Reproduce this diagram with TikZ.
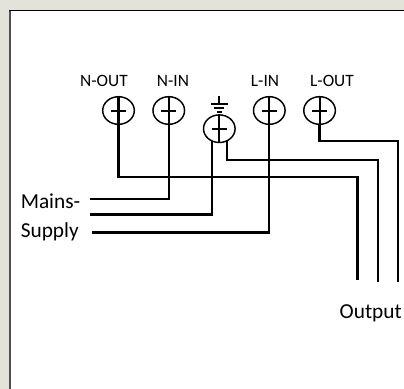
\documentclass[tikz,border=0pt]{standalone}
\usepackage{fontspec}
\setmainfont{Carlito}
\usetikzlibrary{positioning}
\usetikzlibrary{calc}
\usetikzlibrary{shapes.geometric}
\definecolor{panel}{HTML}{E4E3DB}
\definecolor{edge}{HTML}{505050}
\tikzset{
  terminal/.style = { ellipse, draw=black, line width=1.1pt, minimum width=23.7pt, minimum height=20.7pt, inner sep=0pt, outer sep=0pt },
  wire/.style     = { line width=1.7pt, draw=black, line join=miter },
  stem/.style     = { line width=1.6pt, draw=black },
  caption/.style  = { font=\fontsize{16}{18}\selectfont, inner sep=0pt },
  pinname/.style  = { font=\fontsize{13}{15}\selectfont, inner sep=0pt }
}
\begin{document}
\begin{tikzpicture}[x=0.75pt,y=-0.75pt,node distance=14pt]
  \useasboundingbox (0,0) rectangle (404,389);
  \fill [panel] (0,0) rectangle (404,389);
  \fill [white] (10,10) rectangle (404,389);
  \fill [edge]  (9,10) rectangle (11,389);
  \fill [black] (9,9.5) rectangle (404,11);

  % terminals
  \node (nout)  [terminal] at (118.5,110.5) {};
  \node (nin)   [terminal,right=of nout] {};
  \node (earth) [terminal] at (219.3,128.7) {};
  \node (lin)   [terminal] at (269.3,110.5) {};
  \node (lout)  [terminal,right=of lin] {};
  \foreach \pin in {nout,nin,earth,lin,lout} {
    \draw [stem] (\pin.north) -- (\pin.south);
    \draw [stem] ($(\pin)+(-7.5,0.5)$) -- ($(\pin)+(7.5,0.5)$);
  }

  % earth sign
  \coordinate (earthtop) at (219.3,96);
  \draw [stem] (earthtop) -- ++(0,8.3);
  \draw [stem] ($(earthtop)+(-8.5,8.3)$) -- ($(earthtop)+(8.5,8.3)$);
  \draw [stem] ($(earthtop)+(-5,12)$) -- ($(earthtop)+(5,12)$);
  \draw [stem] ($(earthtop)+(-2.5,16)$) -- ($(earthtop)+(2.5,16)$);

  % labels
  \node (noutname) [pinname] at (104,81) {N-OUT};
  \node (ninname)  [pinname] at (173,81) {N-IN};
  \node (linname)  [pinname] at (265,81) {L-IN};
  \node (loutname) [pinname] at (332,81) {L-OUT};
  \node (mains)    [caption,anchor=west] at (20.5,201) {Mains-};
  \node (supply)   [caption,anchor=west] at (20.5,232) {Supply};
  \node (output)   [caption,anchor=east] at (402,313) {Output};

  % free ends of the wires
  \coordinate (mainsa)  at (90,199);
  \coordinate (mainsb)  at (90,214.5);
  \coordinate (mainsc)  at (91.5,232.5);
  \coordinate (outa)    at (357.5,280);
  \coordinate (outb)    at (378,282);
  \coordinate (outc)    at (398,282);

  \draw [wire] (nout.south) -- ++(0,53) -| (outa);
  \draw [wire] (earth.-59)  |- (378,160) -- (outb);
  \draw [wire] (lout.south) |- (398,141) -- (outc);
  \draw [wire] (nin.south)  |- (mainsa);
  \draw [wire] (earth.-121) |- (mainsb);
  \draw [wire] (lin.south)  |- (mainsc);
\end{tikzpicture}
\end{document}
